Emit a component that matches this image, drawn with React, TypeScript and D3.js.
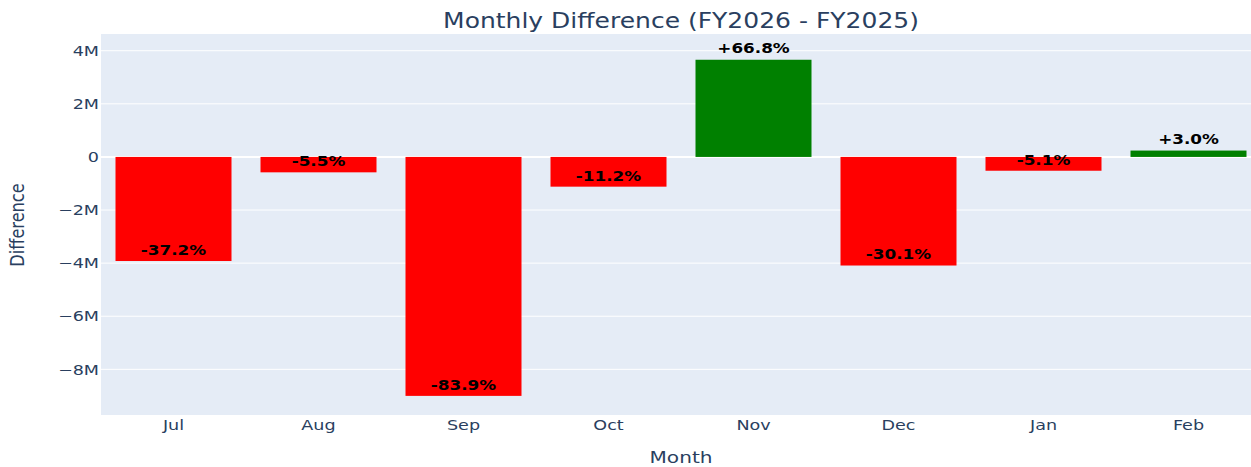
import React from "react";
import * as d3 from "d3";

const months = ["Jul", "Aug", "Sep", "Oct", "Nov", "Dec", "Jan", "Feb"];
const diffMillions = [-3.92, -0.58, -9.0, -1.12, 3.66, -4.09, -0.52, 0.24];
const pctLabels = ["-37.2%", "-5.5%", "-83.9%", "-11.2%", "+66.8%", "-30.1%", "-5.1%", "+3.0%"];
const yTicks = [-8, -6, -4, -2, 0, 2, 4];
const yTickLabels = ["\u22128M", "\u22126M", "\u22124M", "\u22122M", "0", "2M", "4M"];

const W = 1251;
const H = 467;
const PL = 101, PR = 1261, PT = 34, PB = 415;
const SX = 1.22;
const FONT = "'DejaVu Sans', Verdana, sans-serif";
const TXT = "#2a3f5f";

export default function App() {
  const x = d3.scaleBand<string>().domain(months).range([PL, PR]).paddingInner(0.2).paddingOuter(0.1);
  const y = d3.scaleLinear().domain([-9.72, 4.63]).range([PB, PT]);
  const y0 = y(0);

  const st = (tx: number, ty: number) => `translate(${tx},${ty}) scale(${SX},1)`;

  return (
    <svg width={W} height={H} style={{ position: "absolute", left: 0, top: 0, background: "#fff" }} fontFamily={FONT}>
      <defs>
        <clipPath id="plotclip">
          <rect x={PL} y={PT} width={PR - PL} height={PB - PT} />
        </clipPath>
      </defs>
      <rect x={PL} y={PT} width={PR - PL} height={PB - PT} fill="#e5ecf6" />
      {yTicks.map((t) => (
        <line key={"g" + t} x1={PL} x2={PR} y1={y(t)} y2={y(t)} stroke="#fff" strokeWidth={t === 0 ? 2 : 1} />
      ))}
      <g clipPath="url(#plotclip)">
        {months.map((m, i) => {
          const v = diffMillions[i];
          const top = Math.min(y(v), y0);
          const h = Math.abs(y(v) - y0);
          return (
            <rect key={m} x={x(m)!} y={top} width={x.bandwidth()} height={h}
              fill={v >= 0 ? "#008000" : "#ff0000"} />
          );
        })}
      </g>
      {months.map((m, i) => {
        const v = diffMillions[i];
        const cx = x(m)! + x.bandwidth() / 2;
        const cy = v >= 0 ? y(v) - 12 : y(v) - 11;
        return (
          <text key={"l" + m} transform={st(cx, cy)} textAnchor="middle" dy="0.36em"
            fontSize={13.8} fontWeight="bold" fill="#000">
            {pctLabels[i]}
          </text>
        );
      })}
      {yTicks.map((t, i) => (
        <text key={"yt" + t} transform={st(99, y(t))} textAnchor="end" dy="0.36em" fontSize={14.4} fill={TXT}>
          {yTickLabels[i]}
        </text>
      ))}
      {months.map((m) => (
        <text key={"xt" + m} transform={st(x(m)! + x.bandwidth() / 2, 430)} textAnchor="middle" fontSize={14.4} fill={TXT}>
          {m}
        </text>
      ))}
      <text transform={st(681, 27.5)} textAnchor="middle" fontSize={20.5} fill={TXT}>
        Monthly Difference (FY2026 - FY2025)
      </text>
      <text transform={st(681, 463)} textAnchor="middle" fontSize={16.5} fill={TXT}>
        Month
      </text>
      <text transform={`translate(24,225) scale(${SX},1) rotate(-90)`} textAnchor="middle" fontSize={16.2} fill={TXT}>
        Difference
      </text>
    </svg>
  );
}
